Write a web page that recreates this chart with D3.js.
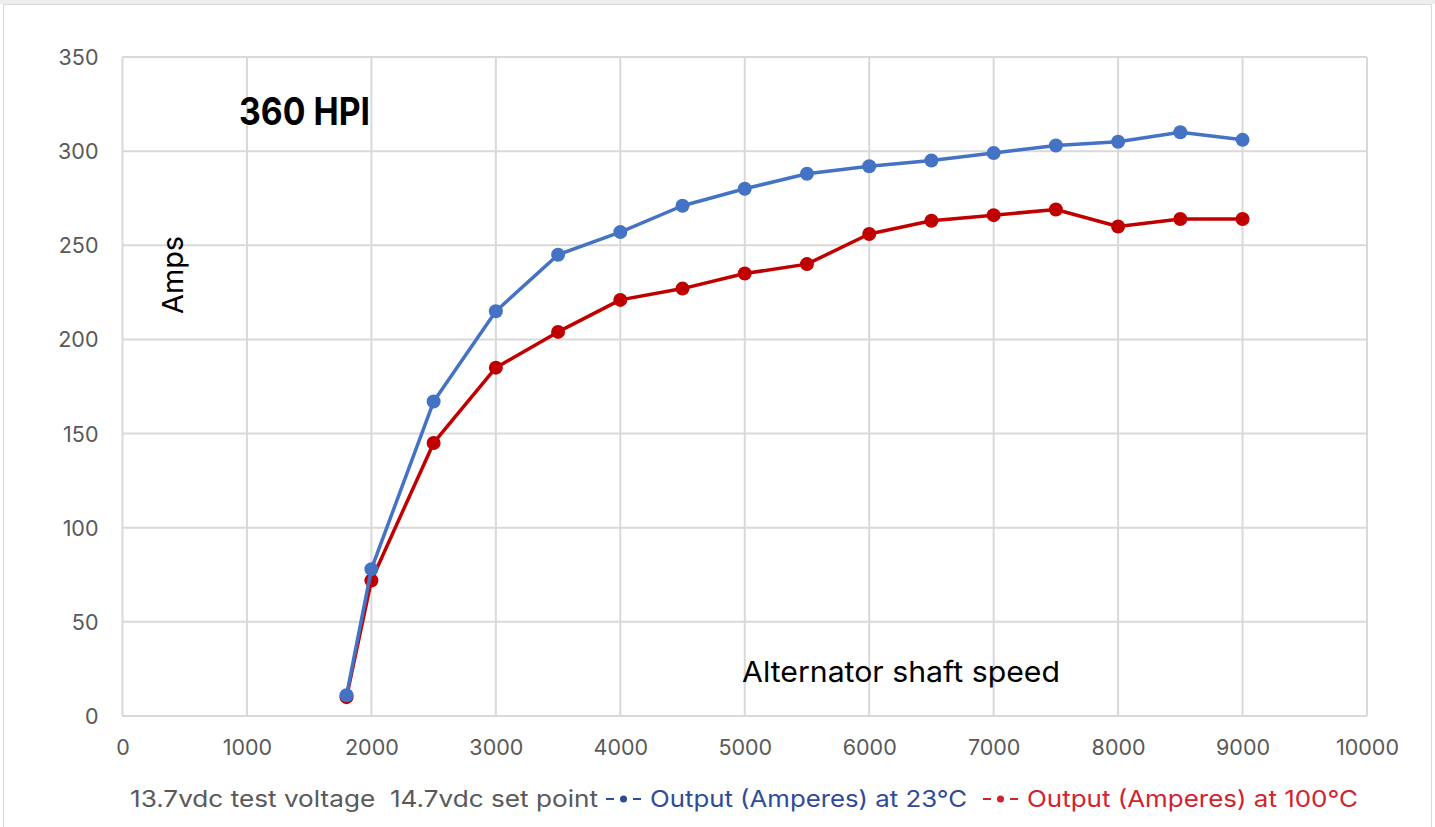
<!DOCTYPE html>
<html>
<head>
<meta charset="utf-8">
<script src="https://cdn.jsdelivr.net/npm/d3@7"></script>
<style>
  body { margin: 0; background: #fff; }
  text { font-family: Inter, "Noto Sans", sans-serif; white-space: pre; }
</style>
</head>
<body>
<script>
// alternator output
var speeds = [1800, 2000, 2500, 3000, 3500, 4000, 4500, 5000, 5500, 6000, 6500, 7000, 7500, 8000, 8500, 9000];
var amps23 = [11, 78, 167, 215, 245, 257, 271, 280, 288, 292, 295, 299, 303, 305, 310, 306];
var amps100 = [10, 72, 145, 185, 204, 221, 227, 235, 240, 256, 263, 266, 269, 260, 264, 264];
var xTicks = [0, 1000, 2000, 3000, 4000, 5000, 6000, 7000, 8000, 9000, 10000];
var yTicks = [0, 50, 100, 150, 200, 250, 300, 350];

var width = 1435,
    height = 827;

var svg = d3.select('body').append('svg')
    .attr('width', width)
    .attr('height', height);

// outer frame of the chart
svg.append('rect').attr('x', 0).attr('y', 0).attr('width', width).attr('height', 4).attr('fill', '#eeeeee');
svg.append('rect')
    .attr('x', 3.5).attr('y', 4.5)
    .attr('width', 1428).attr('height', 840)
    .attr('fill', '#fff')
    .attr('stroke', '#d9d9d9');

var x = d3.scaleLinear().domain([0, 10000]).range([122.5, 1367]);
var y = d3.scaleLinear().domain([0, 350]).range([716, 57]);

// gridlines
svg.append('g').selectAll('line.v')
    .data(xTicks)
    .enter().append('line')
    .attr('x1', function(d) { return x(d); })
    .attr('x2', function(d) { return x(d); })
    .attr('y1', y(0)).attr('y2', y(350))
    .attr('stroke', '#d9d9d9').attr('stroke-width', 2);

svg.append('g').selectAll('line.h')
    .data(yTicks)
    .enter().append('line')
    .attr('x1', x(0)).attr('x2', x(10000))
    .attr('y1', function(d) { return y(d); })
    .attr('y2', function(d) { return y(d); })
    .attr('stroke', '#d9d9d9').attr('stroke-width', 2);

// axis labels
var xAxis = svg.append('g')
    .attr('transform', 'translate(0,' + y(0) + ')')
    .call(d3.axisBottom(x).tickValues(xTicks).tickSize(0).tickPadding(24).tickFormat(d3.format('d')));
var yAxis = svg.append('g')
    .attr('transform', 'translate(' + (x(0) - 24) + ',0)')
    .call(d3.axisLeft(y).tickValues(yTicks).tickSize(0).tickPadding(0));
[xAxis, yAxis].forEach(function(a) {
    a.select('.domain').remove();
    a.selectAll('text')
        .attr('font-family', 'Inter, sans-serif')
        .attr('font-size', 21.5)
        .attr('fill', '#595959');
});
yAxis.selectAll('text').attr('dy', '0.35em');

// series
var series = [
    { values: amps100, color: '#C00000' },
    { values: amps23, color: '#4472C4' }
];

var line = d3.line()
    .x(function(d) { return x(d[0]); })
    .y(function(d) { return y(d[1]); });

series.forEach(function(s) {
    var pts = speeds.map(function(sp, i) { return [sp, s.values[i]]; });
    svg.append('path')
        .datum(pts)
        .attr('d', line)
        .attr('fill', 'none')
        .attr('stroke', s.color)
        .attr('stroke-width', 3.5)
        .attr('stroke-linejoin', 'round');
    svg.append('g').selectAll('circle')
        .data(pts)
        .enter().append('circle')
        .attr('cx', function(d) { return x(d[0]); })
        .attr('cy', function(d) { return y(d[1]); })
        .attr('r', 7)
        .attr('fill', s.color);
});

// text in the plot
svg.append('text')
    .attr('x', 239).attr('y', 125)
    .attr('font-size', 38).attr('font-weight', 'bold')
    .attr('fill', '#000')
    .attr('textLength', 131).attr('lengthAdjust', 'spacingAndGlyphs')
    .text('360 HPI');

svg.append('text')
    .attr('transform', 'translate(183,275) rotate(-90)')
    .attr('text-anchor', 'middle')
    .attr('font-size', 29)
    .attr('fill', '#000')
    .attr('textLength', 78).attr('lengthAdjust', 'spacingAndGlyphs')
    .text('Amps');

svg.append('text')
    .attr('x', 742).attr('y', 682)
    .attr('font-size', 29)
    .attr('fill', '#000')
    .attr('textLength', 318).attr('lengthAdjust', 'spacingAndGlyphs')
    .text('Alternator shaft speed');

// legend line under the chart
var legendY = 807;
svg.append('text')
    .attr('x', 130).attr('y', legendY)
    .attr('font-size', 23).attr('fill', '#595959')
    .attr('textLength', 468).attr('lengthAdjust', 'spacingAndGlyphs')
    .text('13.7vdc test voltage  14.7vdc set point');

var legend = [
    { label: 'Output (Amperes) at 23°C', color: '#2E4A9B', markX: 606, textX: 650, textW: 317 },
    { label: 'Output (Amperes) at 100°C', color: '#D2222D', markX: 983, textX: 1027, textW: 331 }
];
legend.forEach(function(l) {
    var g = svg.append('g');
    g.append('line').attr('x1', l.markX).attr('x2', l.markX + 8)
        .attr('y1', legendY - 8).attr('y2', legendY - 8)
        .attr('stroke', l.color).attr('stroke-width', 2);
    g.append('line').attr('x1', l.markX + 27).attr('x2', l.markX + 35)
        .attr('y1', legendY - 8).attr('y2', legendY - 8)
        .attr('stroke', l.color).attr('stroke-width', 2);
    g.append('circle').attr('cx', l.markX + 17.5).attr('cy', legendY - 8).attr('r', 3.5).attr('fill', l.color);
    g.append('text')
        .attr('x', l.textX).attr('y', legendY)
        .attr('font-size', 23).attr('fill', l.color)
        .attr('textLength', l.textW).attr('lengthAdjust', 'spacingAndGlyphs')
        .text(l.label);
});
</script>
</body>
</html>
